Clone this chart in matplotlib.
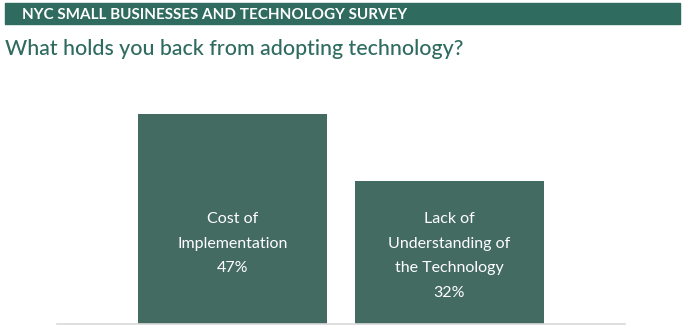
import matplotlib
matplotlib.use("Agg")
import matplotlib.pyplot as plt
from matplotlib.patches import Rectangle

# survey data
categories = ["Cost of\nImplementation", "Lack of\nUnderstanding of\nthe Technology"]
shares = [47, 32]

banner_text = "NYC SMALL BUSINESSES AND TECHNOLOGY SURVEY"
title_text = "What holds you back from adopting technology?"

bar_color = "#436b62"
banner_color = "#2f6b5f"
title_color = "#2f6b5f"

W, H = 684, 335
fig = plt.figure(figsize=(W / 100, H / 100), dpi=100)
plt.rcParams["font.family"] = ["Lato", "DejaVu Sans"]

# header banner
fig.patches.append(Rectangle((5 / W, 1 - 24 / H), 675 / W, 21 / H,
                             transform=fig.transFigure, color=banner_color, zorder=0))
fig.text(22 / W, 1 - 19 / H, banner_text, color="white", fontsize=11,
         fontweight="bold", va="baseline", ha="left")
fig.text(5 / W, 1 - 55 / H, title_text, color=title_color, fontsize=15.4,
         fontweight="medium", va="baseline", ha="left")

ax = fig.add_axes([57 / W, 11 / H, 568 / W, 244 / H])
x = list(range(len(categories)))
bars = ax.bar(x, shares, width=0.87, color=bar_color)
for xi, cat, val in zip(x, categories, shares):
    ax.text(xi, 25.0, f"{cat}\n{val}%", ha="center", va="top", color="white",
            fontsize=11.5, fontweight="normal", linespacing=1.95)

ax.set_xlim(-0.81, 1.81)
ax.set_ylim(0, 54.6)
for side in ["top", "right", "left"]:
    ax.spines[side].set_visible(False)
ax.spines["bottom"].set_color("#d9d9d9")
ax.spines["bottom"].set_linewidth(1.2)
ax.set_xticks([])
ax.set_yticks([])

fig.savefig("out.png", dpi=100)
